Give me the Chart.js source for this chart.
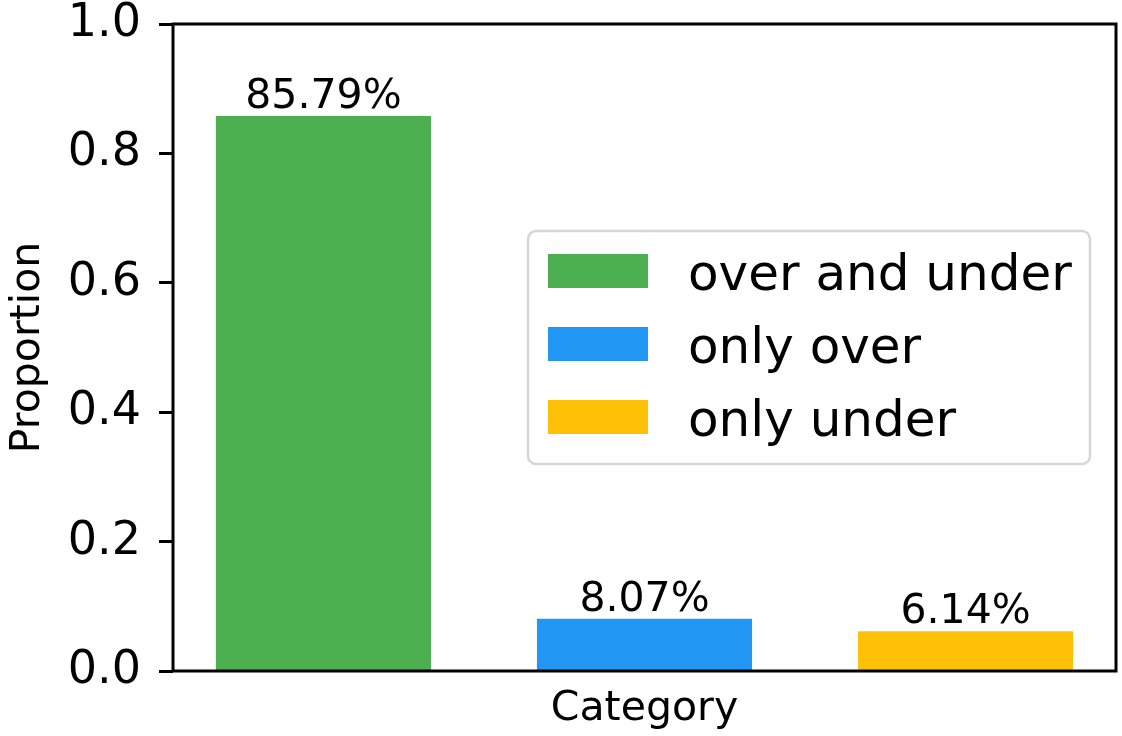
<!DOCTYPE html>
<html>
<head>
<meta charset="utf-8">
<script src="https://cdn.jsdelivr.net/npm/chart.js@4/dist/chart.umd.min.js"></script>
<style>
  html, body { margin: 0; padding: 0; background: #fff; }
  #wrap { width: 1122px; height: 736px; }
</style>
</head>
<body>
<div id="wrap"><canvas id="chart" width="1122" height="736"></canvas></div>
<script>
const categories = ["over and under", "only over", "only under"];
const positions = [0, 1, 2];
const proportions = [0.8579, 0.0807, 0.0614];
const barColors = ["#4CAF50", "#2196F3", "#FFC107"];
const yTicks = [0.0, 0.2, 0.4, 0.6, 0.8, 1.0];

const FONT = "'DejaVu Sans', sans-serif";

// value labels above bars
const barLabels = {
  id: "barLabels",
  afterDatasetsDraw(chart) {
    const ctx = chart.ctx;
    ctx.save();
    ctx.font = "41px " + FONT;
    ctx.fillStyle = "#000";
    ctx.textAlign = "center";
    ctx.textBaseline = "alphabetic";
    chart.data.datasets.forEach((ds, i) => {
      const bar = chart.getDatasetMeta(i).data[0];
      const txt = (proportions[i] * 100).toFixed(2) + "%";
      ctx.fillText(txt, bar.x, bar.y - 8);
    });
    ctx.restore();
  }
};

// axes frame + legend box inside the plot
const frameAndLegend = {
  id: "frameAndLegend",
  afterDraw(chart) {
    const ctx = chart.ctx;
    const a = chart.chartArea;
    ctx.save();
    ctx.strokeStyle = "#000";
    ctx.lineWidth = 3;
    ctx.strokeRect(a.left, a.top, a.right - a.left, a.bottom - a.top);

    // legend
    const x0 = 528, y0 = 231, w = 562, h = 233, r = 8;
    ctx.beginPath();
    ctx.roundRect(x0, y0, w, h, r);
    ctx.fillStyle = "rgba(255,255,255,0.8)";
    ctx.fill();
    ctx.strokeStyle = "#d6d6d6";
    ctx.lineWidth = 2.5;
    ctx.stroke();

    ctx.font = "50px " + FONT;
    ctx.textAlign = "left";
    ctx.textBaseline = "alphabetic";
    chart.data.datasets.forEach((ds, i) => {
      const cy = 271 + i * 73;
      ctx.fillStyle = ds.backgroundColor;
      ctx.fillRect(548, cy - 17, 100, 34);
      ctx.fillStyle = "#000";
      ctx.fillText(ds.label, 688, cy + 19);
    });
    ctx.restore();
  }
};

new Chart(document.getElementById("chart"), {
  type: "bar",
  data: {
    datasets: categories.map((c, i) => ({
      label: c,
      data: [{ x: positions[i], y: proportions[i] }],
      backgroundColor: barColors[i],
      borderWidth: 0
    }))
  },
  options: {
    responsive: false,
    animation: false,
    grouped: false,
    barPercentage: 1,
    categoryPercentage: 0.67,
    layout: { autoPadding: false, padding: { left: 0, right: 6, top: 24, bottom: 0 } },
    plugins: {
      legend: { display: false },
      tooltip: { enabled: false }
    },
    scales: {
      x: {
        type: "linear",
        offset: false,
        min: -0.4685,
        max: 2.4685,
        afterBuildTicks: s => { s.ticks = positions.map(v => ({ value: v })); },
        afterFit: s => { s.height = 65; s.paddingLeft = 0; s.paddingRight = 0; },
        ticks: { display: false },
        grid: { display: false, offset: false },
        border: { display: false },
        title: {
          display: true,
          text: "Category",
          color: "#000",
          font: { family: FONT, size: 41, lineHeight: 1 },
          padding: { top: 0, bottom: 6 }
        }
      },
      y: {
        min: 0,
        max: 1,
        afterBuildTicks: s => { s.ticks = yTicks.map(v => ({ value: v })); },
        afterFit: s => { s.width = 173; s.paddingTop = 0; s.paddingBottom = 0; },
        ticks: {
          color: "#000",
          padding: 18,
          font: { family: FONT, size: 46 },
          callback: v => v.toFixed(1)
        },
        grid: {
          drawOnChartArea: false,
          drawTicks: true,
          tickLength: 14,
          tickWidth: 3,
          tickColor: "#000"
        },
        border: { display: false },
        title: {
          display: true,
          text: "Proportion",
          color: "#000",
          font: { family: FONT, size: 41, lineHeight: 1 },
          padding: { top: 8, bottom: 0 }
        }
      }
    }
  },
  plugins: [barLabels, frameAndLegend]
});
</script>
</body>
</html>
